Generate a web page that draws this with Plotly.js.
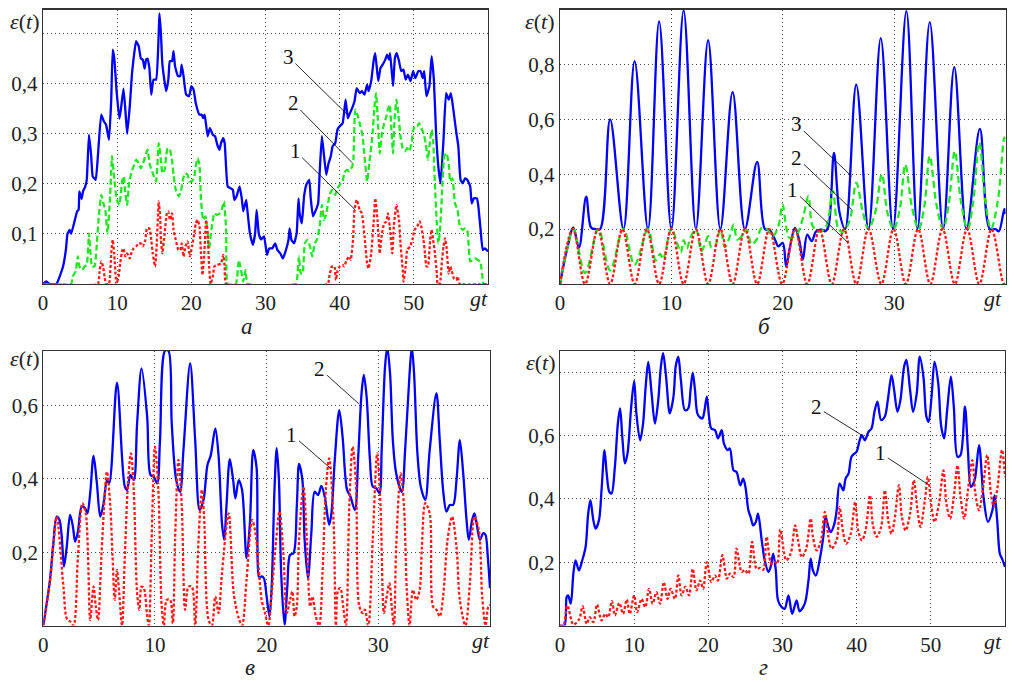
<!DOCTYPE html>
<html><head><meta charset="utf-8">
<script src="https://cdn.plot.ly/plotly-3.0.1.min.js"></script>
<style>body{margin:0;background:#fff}</style>
</head><body><div id="chart" style="width:1014px;height:682px"></div>
<script>
// ---------- panel а (gt 0..60) ----------
const aCurve3 = [[0,0],[0.45,0.005],[0.9,0],[1.8,0],[2.7,0.035],[3.1,0.07],[3.3,0.1],[3.6,0.108],[3.8,0.1],[4.3,0.128],[4.6,0.145],[4.8,0.148],[4.9,0.185],[5.2,0.17],[5.4,0.185],[5.7,0.195],[5.9,0.208],[6.2,0.298],[6.5,0.255],[6.7,0.215],[7.1,0.208],[7.4,0.255],[7.85,0.338],[8.2,0.325],[8.5,0.318],[8.9,0.288],[9.2,0.368],[9.4,0.468],[9.6,0.452],[9.95,0.38],[10.3,0.33],[10.5,0.348],[10.85,0.39],[11.1,0.348],[11.35,0.3],[11.7,0.355],[12.0,0.42],[12.2,0.448],[12.55,0.485],[12.9,0.475],[13.2,0.45],[13.45,0.448],[13.7,0.43],[13.9,0.448],[14.1,0.45],[14.35,0.43],[14.6,0.378],[14.9,0.408],[15.25,0.408],[15.6,0.5],[15.7,0.54],[15.9,0.5],[16.1,0.438],[16.6,0.385],[16.9,0.408],[17.1,0.445],[17.4,0.445],[17.6,0.465],[17.8,0.435],[18.2,0.415],[18.5,0.415],[18.7,0.438],[18.95,0.415],[19.3,0.378],[19.7,0.375],[20.0,0.395],[20.3,0.388],[20.6,0.361],[21.1,0.338],[21.4,0.338],[21.6,0.331],[21.8,0.338],[22.2,0.295],[22.5,0.311],[22.9,0.298],[23.2,0.295],[23.5,0.278],[23.8,0.268],[24.0,0.281],[24.3,0.291],[24.5,0.281],[24.9,0.195],[25.3,0.191],[25.6,0.188],[25.8,0.168],[26.1,0.175],[26.5,0.195],[26.8,0.171],[27.0,0.145],[27.4,0.168],[27.6,0.141],[27.9,0.101],[28.3,0.078],[28.6,0.101],[28.8,0.148],[29.1,0.1],[29.4,0.089],[29.8,0.095],[30.2,0.058],[30.5,0.071],[30.9,0.071],[31.3,0.081],[31.6,0.068],[32.0,0.061],[32.35,0.051],[32.7,0.065],[33.1,0.088],[33.25,0.111],[33.5,0.088],[33.85,0.081],[34.2,0.101],[34.45,0.171],[34.6,0.141],[34.9,0.121],[35.2,0.175],[35.5,0.198],[35.9,0.208],[36.1,0.171],[36.4,0.135],[36.8,0.148],[37.1,0.161],[37.3,0.221],[37.6,0.295],[37.9,0.255],[38.2,0.218],[38.5,0.241],[38.8,0.255],[39.05,0.275],[39.4,0.281],[39.7,0.308],[40.0,0.315],[40.4,0.321],[40.8,0.368],[41.1,0.331],[41.3,0.338],[41.6,0.348],[42.0,0.365],[42.3,0.391],[42.7,0.381],[43.0,0.385],[43.35,0.378],[43.7,0.398],[43.9,0.385],[44.25,0.405],[44.6,0.448],[44.8,0.461],[45.2,0.405],[45.5,0.431],[45.8,0.438],[46.15,0.448],[46.4,0.458],[46.65,0.448],[46.8,0.461],[47.2,0.395],[47.45,0.451],[47.7,0.461],[48.0,0.445],[48.3,0.425],[48.6,0.428],[48.9,0.408],[49.2,0.418],[49.55,0.405],[49.9,0.425],[50.2,0.411],[50.6,0.425],[50.9,0.425],[51.2,0.411],[51.4,0.425],[51.7,0.375],[52.1,0.395],[52.4,0.455],[52.7,0.408],[53.0,0.301],[53.3,0.235],[53.6,0.201],[54.0,0.288],[54.35,0.381],[54.7,0.368],[55.0,0.381],[55.3,0.351],[55.7,0.305],[56.0,0.275],[56.3,0.208],[56.6,0.201],[56.9,0.211],[57.2,0.208],[57.6,0.195],[57.8,0.161],[58.1,0.171],[58.5,0.171],[58.7,0.155],[58.96,0.115],[59.3,0.068],[59.6,0.071],[60.0,0.065]];
const aCurve2 = [[0,0],[3.8,0],[4.0,0.015],[4.4,0.025],[4.7,0.055],[4.9,0.035],[5.3,0.028],[5.6,0.035],[5.9,0.038],[6.2,0.101],[6.4,0.061],[6.6,0.035],[6.95,0.035],[7.2,0.068],[7.5,0.131],[7.85,0.178],[8.2,0.158],[8.4,0.148],[8.7,0.101],[9.05,0.175],[9.3,0.255],[9.6,0.211],[9.95,0.168],[10.3,0.158],[10.7,0.208],[10.9,0.215],[11.1,0.181],[11.35,0.158],[11.6,0.201],[11.9,0.221],[12.2,0.235],[12.55,0.248],[12.9,0.241],[13.2,0.231],[13.5,0.241],[13.9,0.261],[14.1,0.268],[14.4,0.238],[14.8,0.221],[15.25,0.205],[15.6,0.281],[15.9,0.248],[16.1,0.221],[16.4,0.228],[16.6,0.255],[16.8,0.271],[17.1,0.268],[17.4,0.248],[17.6,0.218],[17.9,0.188],[18.3,0.175],[18.6,0.185],[18.9,0.211],[19.2,0.221],[19.5,0.218],[19.7,0.205],[20.1,0.205],[20.4,0.215],[20.6,0.235],[20.85,0.251],[21.1,0.238],[21.3,0.168],[21.6,0.128],[21.9,0.135],[22.2,0.101],[22.4,0.071],[22.7,0.108],[23.1,0.141],[23.4,0.138],[23.8,0.141],[24.1,0.148],[24.4,0.165],[24.7,0.108],[24.9,0],[26.0,0],[26.4,0.048],[26.7,0.028],[27.0,0.005],[27.3,0.028],[27.6,0],[34.1,0],[34.3,0.015],[34.5,0.055],[34.75,0.021],[35.0,0.021],[35.3,0.081],[35.65,0.088],[36.0,0.075],[36.3,0.055],[36.65,0.081],[37.0,0.091],[37.3,0.115],[37.6,0.158],[37.9,0.128],[38.2,0.141],[38.6,0.175],[38.95,0.188],[39.4,0.178],[39.7,0.191],[40.0,0.198],[40.4,0.205],[40.6,0.221],[40.95,0.228],[41.3,0.225],[41.7,0.235],[41.85,0.248],[42.1,0.348],[42.4,0.338],[42.8,0.315],[43.1,0.295],[43.35,0.255],[43.7,0.205],[44.0,0.241],[44.4,0.295],[44.7,0.355],[44.9,0.381],[45.15,0.328],[45.4,0.261],[45.7,0.301],[46.0,0.321],[46.3,0.335],[46.5,0.348],[46.75,0.358],[47.0,0.301],[47.2,0.261],[47.4,0.328],[47.65,0.368],[47.9,0.341],[48.2,0.295],[48.5,0.271],[48.8,0.265],[49.1,0.271],[49.4,0.265],[49.7,0.281],[49.9,0.305],[50.1,0.315],[50.45,0.315],[50.7,0.321],[51.0,0.311],[51.3,0.301],[51.6,0.281],[51.9,0.248],[52.1,0.275],[52.4,0.308],[52.6,0.288],[52.85,0.195],[53.1,0.121],[53.3,0.081],[53.5,0.101],[53.8,0.181],[54.1,0.255],[54.4,0.261],[54.7,0.241],[54.9,0.205],[55.2,0.211],[55.55,0.161],[55.9,0.148],[56.2,0.115],[56.6,0.108],[56.9,0.111],[57.2,0.108],[57.6,0.045],[57.96,0.048],[58.3,0.051],[58.6,0.048],[58.96,0.045],[59.3,0.008],[59.4,0],[60,0]];
const aCurve1 = [[0,0],[7.4,0],[7.6,0.021],[7.85,0.045],[8.1,0.035],[8.3,0.015],[8.5,0],[8.9,0],[9.2,0.061],[9.4,0.088],[9.6,0.061],[9.9,0],[10.2,0.015],[10.4,0.041],[10.7,0.068],[10.85,0.071],[11.1,0.055],[11.35,0.061],[11.7,0.051],[11.9,0.061],[12.2,0.071],[12.55,0.075],[12.9,0.081],[13.2,0.081],[13.45,0.075],[13.8,0.088],[14.0,0.111],[14.35,0.111],[14.6,0.088],[14.8,0.061],[15.1,0.035],[15.25,0.055],[15.5,0.135],[15.6,0.165],[15.8,0.135],[15.9,0.088],[16.1,0.061],[16.4,0.101],[16.7,0.141],[16.9,0.145],[17.1,0.128],[17.4,0.141],[17.6,0.108],[17.9,0.088],[18.25,0.068],[18.5,0.068],[18.7,0.081],[18.95,0.055],[19.2,0.075],[19.5,0.085],[19.8,0.055],[20.1,0.075],[20.4,0.101],[20.6,0.121],[20.85,0.128],[21.1,0.115],[21.3,0.061],[21.5,0.018],[21.75,0.061],[22.0,0.128],[22.2,0.101],[22.4,0.035],[22.6,0],[22.9,0.015],[23.1,0.035],[23.5,0.038],[24.0,0.041],[24.3,0.058],[24.5,0.035],[24.7,0],[38.4,0],[38.6,0.015],[38.95,0.035],[39.3,0.035],[39.5,0.008],[39.7,0.025],[40.0,0.035],[40.4,0.038],[40.6,0.035],[40.95,0.048],[41.3,0.055],[41.5,0.048],[41.8,0.088],[42.0,0.148],[42.3,0.168],[42.7,0.148],[43.0,0.141],[43.35,0.095],[43.7,0.041],[43.9,0.031],[44.25,0.061],[44.6,0.128],[44.8,0.171],[45.1,0.128],[45.4,0.061],[45.7,0.101],[46.0,0.121],[46.3,0.125],[46.5,0.141],[46.75,0.115],[47.1,0.061],[47.3,0.115],[47.65,0.158],[48.0,0.128],[48.2,0.081],[48.5,0.028],[48.6,0.005],[48.9,0.035],[49.1,0.068],[49.5,0.075],[49.8,0.088],[50.1,0.108],[50.45,0.115],[50.8,0.125],[51.0,0.115],[51.3,0.088],[51.5,0.061],[51.7,0.035],[51.9,0.035],[52.2,0.088],[52.4,0.108],[52.6,0.088],[52.85,0.061],[53.1,0.021],[53.2,0],[53.5,0],[53.8,0.048],[54.0,0.075],[54.2,0.091],[54.4,0.075],[54.7,0.021],[54.9,0.035],[55.1,0.027],[55.4,0.011],[55.7,0.008],[55.9,0.015],[56.2,0],[60,0]];

// ---------- panel б (gt 0..40) ----------
const bCurve3 = [[0,0],[0.6,0.12],[1.2,0.205],[1.7,0.132],[2.35,0.318],[2.8,0.205],[3.2,0.2],[3.6,0.2],[4.5,0.6],[5.7,0.2],[6.7,0.812],[7.9,0.2],[8.9,0.957],[10.0,0.2],[11.1,0.997],[12.2,0.2],[13.3,0.888],[14.4,0.2],[15.5,0.699],[16.6,0.2],[17.7,0.445],[18.4,0.2],[18.8,0.198],[19.3,0.162],[19.6,0.137],[20.0,0.15],[20.3,0.064],[20.6,0.125],[21.1,0.204],[21.5,0.156],[21.8,0.089],[22.2,0.18],[22.6,0.156],[23.0,0.192],[23.5,0.198],[23.8,0.192],[24.1,0.21],[24.6,0.478],[25.1,0.26],[25.6,0.2],[26.6,0.726],[27.7,0.2],[28.8,0.896],[29.9,0.2],[31.1,0.994],[32.1,0.2],[33.2,0.954],[34.4,0.2],[35.4,0.79],[36.5,0.2],[37.7,0.565],[38.6,0.2],[39.1,0.2],[39.4,0.192],[39.9,0.274],[40,0.255]];
const bCurve2 = [[0,0],[0.6,0.12],[1.2,0.2],[2.25,0.04],[3.45,0.2],[4.5,0.05],[5.7,0.2],[6.7,0.07],[7.9,0.2],[8.6,0.085],[9.0,0.11],[9.25,0.09],[10.0,0.2],[10.6,0.138],[10.85,0.115],[11.1,0.16],[11.4,0.13],[11.7,0.168],[12.2,0.2],[12.7,0.12],[13.0,0.144],[13.3,0.174],[13.6,0.132],[13.9,0.135],[14.4,0.2],[14.8,0.135],[15.2,0.168],[15.6,0.217],[15.9,0.162],[16.2,0.168],[16.75,0.198],[17.2,0.144],[17.65,0.162],[18.1,0.204],[18.6,0.2],[19.1,0.174],[19.6,0.21],[19.98,0.29],[20.3,0.21],[20.6,0.168],[21.25,0.18],[21.85,0.247],[22.3,0.32],[22.7,0.21],[23.3,0.19],[23.9,0.21],[24.5,0.34],[25.0,0.2],[25.4,0.19],[26.0,0.23],[26.6,0.369],[27.2,0.26],[27.7,0.2],[28.3,0.26],[28.9,0.4],[29.4,0.26],[29.95,0.2],[30.5,0.27],[31.0,0.435],[31.6,0.28],[32.2,0.2],[32.7,0.28],[33.2,0.466],[33.8,0.29],[34.4,0.2],[34.9,0.29],[35.45,0.484],[36.0,0.3],[36.6,0.2],[37.1,0.3],[37.65,0.516],[38.2,0.3],[38.7,0.2],[39.3,0.3],[39.9,0.534],[40,0.52]];
const bCurve1 = [[0,0],[1.15,0.2],[2.25,0],[3.4,0.2],[4.5,0],[5.6,0.2],[6.7,0],[7.8,0.2],[8.9,0],[10.0,0.2],[11.1,0],[12.2,0.2],[13.3,0],[14.4,0.2],[15.5,0],[16.6,0.2],[17.7,0],[18.8,0.2],[19.95,0],[21.1,0.2],[22.2,0],[23.3,0.2],[24.4,0],[25.5,0.2],[26.6,0],[27.7,0.2],[28.85,0],[29.95,0.2],[31.05,0],[32.15,0.2],[33.25,0],[34.35,0.2],[35.45,0],[36.55,0.2],[37.65,0],[38.75,0.2],[39.85,0],[40,0.003]];

// ---------- panel в (gt 0..40) ----------
const cCurve2 = [[0,0],[0.6,0.125],[0.9,0.225],[1.2,0.297],[1.45,0.288],[1.65,0.243],[1.85,0.161],[2.1,0.215],[2.4,0.302],[2.65,0.27],[2.85,0.229],[3.1,0.256],[3.45,0.325],[3.75,0.32],[3.95,0.306],[4.2,0.361],[4.5,0.463],[4.8,0.388],[5.1,0.297],[5.4,0.334],[5.7,0.397],[5.9,0.388],[6.6,0.663],[7.3,0.379],[7.5,0.37],[7.8,0.411],[8.1,0.397],[8.4,0.552],[8.8,0.702],[9.3,0.57],[9.6,0.411],[9.9,0.405],[10.2,0.388],[10.45,0.506],[10.9,0.75],[11.2,0.75],[11.5,0.552],[11.9,0.397],[12.25,0.365],[12.55,0.479],[13.15,0.715],[13.6,0.506],[14.0,0.315],[14.35,0.343],[14.7,0.438],[15.0,0.465],[15.4,0.538],[15.7,0.461],[16.0,0.279],[16.2,0.234],[16.4,0.325],[16.7,0.454],[17.0,0.397],[17.2,0.347],[17.5,0.397],[17.8,0.37],[18.2,0.184],[18.5,0.279],[18.8,0.479],[19.1,0.43],[19.35,0.129],[19.55,0.134],[19.75,0.129],[20.0,0.079],[20.25,0.025],[20.45,0.106],[20.7,0.37],[20.9,0.484],[21.1,0.397],[21.3,0.143],[21.6,0.002],[21.85,0.106],[22.1,0.193],[22.4,0.197],[22.7,0.325],[22.9,0.441],[23.2,0.397],[23.4,0.234],[23.7,0.129],[24.0,0.252],[24.3,0.365],[24.6,0.356],[24.9,0.381],[25.2,0.352],[25.6,0.275],[25.8,0.306],[26.1,0.452],[26.5,0.588],[26.8,0.515],[27.2,0.37],[27.5,0.352],[27.9,0.315],[28.2,0.461],[28.5,0.634],[28.7,0.684],[28.95,0.625],[29.25,0.452],[29.5,0.379],[29.8,0.375],[30.1,0.361],[30.3,0.479],[30.6,0.706],[30.8,0.76],[31.05,0.688],[31.3,0.506],[31.6,0.415],[32.1,0.365],[32.4,0.479],[32.8,0.688],[33.0,0.76],[33.2,0.688],[33.5,0.47],[33.8,0.379],[34.2,0.343],[34.6,0.479],[35.2,0.634],[35.5,0.506],[35.8,0.37],[36.1,0.311],[36.4,0.329],[36.7,0.329],[37.0,0.397],[37.3,0.506],[37.6,0.415],[37.9,0.288],[38.1,0.234],[38.4,0.288],[38.6,0.306],[38.8,0.279],[39.1,0.234],[39.4,0.252],[39.6,0.247],[39.8,0.188],[40.0,0.102]];
const cCurve1 = [[0,0],[0.6,0.12],[0.9,0.22],[1.2,0.297],[1.8,0.106],[2.1,0.02],[2.4,0.011],[2.7,0],[3.1,0.188],[3.5,0.334],[3.8,0.306],[4.0,0.197],[4.2,0.015],[4.5,0.106],[4.7,0.052],[4.9,0.015],[5.2,0.188],[5.5,0.352],[5.7,0.42],[6.0,0.325],[6.2,0.188],[6.4,0.07],[6.6,0.152],[6.8,0.088],[7.05,0],[7.3,0.188],[7.6,0.397],[7.85,0.47],[8.1,0.37],[8.4,0.088],[8.6,0.043],[8.8,0.106],[9.0,0.102],[9.3,0.025],[9.45,0],[9.7,0.234],[10.0,0.488],[10.3,0.37],[10.6,0.052],[10.8,0],[11.05,0.07],[11.35,0.07],[11.6,0.006],[11.8,0.234],[12.1,0.452],[12.4,0.325],[12.7,0.043],[13.0,0.106],[13.3,0.106],[13.6,0],[13.9,0.234],[14.2,0.37],[14.4,0.297],[14.8,0.015],[15.1,0],[15.4,0.079],[15.7,0.034],[16.0,0.143],[16.6,0.306],[17.05,0.088],[17.5,0.02],[17.8,0],[18.2,0.125],[18.7,0.288],[19.0,0.252],[19.3,0.152],[19.55,0.07],[19.85,0.034],[20.15,0],[20.45,0.088],[20.85,0.234],[21.15,0.311],[21.5,0.197],[21.8,0.034],[22.1,0.07],[22.3,0.093],[22.5,0.025],[22.7,0.052],[22.9,0.234],[23.3,0.379],[23.6,0.234],[23.9,0.052],[24.1,0.079],[24.4,0.025],[24.7,0],[25.0,0.143],[25.3,0.37],[25.6,0.456],[26.0,0.279],[26.2,0],[26.4,0.097],[26.6,0.102],[26.85,0.052],[27.1,0],[27.4,0.325],[27.7,0.488],[28.0,0.388],[28.3,0.052],[28.6,0.034],[28.8,0.043],[29.1,0],[29.5,0.234],[29.9,0.47],[30.2,0.325],[30.5,0.034],[30.7,0.07],[31.0,0.115],[31.2,0.052],[31.4,0],[31.6,0.215],[32.0,0.415],[32.3,0.325],[32.55,0.097],[32.8,0],[33.1,0.097],[33.4,0.07],[33.7,0.097],[33.9,0.215],[34.2,0.334],[34.6,0.306],[34.9,0.052],[35.2,0.043],[35.5,0.025],[35.8,0.079],[36.2,0.234],[36.6,0.297],[37.0,0.215],[37.3,0.07],[37.8,0],[38.2,0.115],[38.6,0.297],[39.0,0.261],[39.3,0.079],[39.6,0],[39.85,0.052],[40.0,0.056]];

// ---------- panel г (gt 0..60) ----------
const dCurve2 = [[0,0],[0.6,0],[0.9,0.09],[1.1,0.095],[1.45,0.069],[1.8,0.164],[2.1,0.206],[2.55,0.174],[3.0,0.206],[3.45,0.248],[3.8,0.353],[4.1,0.396],[4.5,0.332],[4.8,0.306],[5.25,0.332],[5.6,0.427],[6.0,0.554],[6.3,0.48],[6.65,0.422],[6.95,0.417],[7.4,0.501],[7.8,0.638],[8.1,0.686],[8.4,0.596],[8.75,0.512],[9.1,0.543],[9.6,0.691],[10.0,0.773],[10.3,0.67],[10.8,0.585],[11.2,0.638],[11.55,0.754],[11.9,0.833],[12.35,0.733],[12.8,0.638],[13.25,0.712],[13.6,0.818],[13.9,0.86],[14.3,0.786],[14.8,0.67],[15.3,0.723],[15.6,0.818],[15.95,0.849],[16.3,0.775],[16.85,0.68],[17.3,0.686],[17.6,0.744],[17.9,0.799],[18.2,0.744],[18.6,0.665],[19.2,0.654],[19.45,0.675],[19.8,0.723],[20.1,0.659],[20.4,0.622],[20.9,0.617],[21.3,0.591],[21.8,0.617],[22.1,0.575],[22.6,0.554],[22.9,0.559],[23.4,0.49],[23.8,0.485],[24.3,0.443],[24.7,0.464],[25.0,0.438],[25.4,0.364],[25.7,0.343],[26.05,0.316],[26.4,0.327],[26.7,0.353],[27.2,0.269],[27.6,0.206],[28.1,0.169],[28.4,0.185],[28.75,0.227],[29.1,0.174],[29.4,0.079],[29.9,0.058],[30.3,0.053],[30.8,0.095],[31.3,0.037],[31.9,0.079],[32.3,0.045],[33.0,0.069],[33.5,0.142],[33.8,0.211],[34.1,0.174],[34.5,0.158],[35.0,0.206],[35.5,0.28],[35.8,0.343],[36.2,0.311],[36.5,0.295],[37.0,0.322],[37.3,0.364],[37.7,0.448],[38.2,0.427],[38.5,0.464],[38.9,0.48],[39.3,0.533],[39.7,0.543],[40.0,0.549],[40.4,0.585],[40.7,0.601],[41.1,0.585],[41.6,0.612],[42.0,0.622],[42.4,0.675],[42.8,0.707],[43.3,0.649],[43.8,0.66],[44.2,0.712],[44.7,0.791],[45.05,0.744],[45.5,0.675],[45.9,0.712],[46.4,0.818],[46.7,0.839],[47.2,0.744],[47.6,0.675],[48.1,0.733],[48.5,0.849],[49.0,0.786],[49.4,0.66],[49.7,0.643],[50.1,0.723],[50.5,0.833],[51.0,0.765],[51.4,0.628],[51.8,0.591],[52.2,0.68],[52.7,0.786],[53.1,0.691],[53.6,0.533],[54.0,0.538],[54.6,0.691],[55.0,0.554],[55.4,0.438],[55.9,0.459],[56.5,0.57],[57.1,0.406],[57.7,0.327],[58.3,0.364],[58.6,0.411],[58.95,0.332],[59.3,0.227],[59.6,0.211],[60.0,0.185]];
const dCurve1 = [[0,0],[0.45,0],[1.0,0.063],[1.8,0.003],[2.6,0.021],[3.05,0.06],[3.6,0.005],[4.0,0.026],[4.5,0.011],[5.0,0.066],[5.6,0.016],[6.1,0.037],[6.5,0.026],[7.0,0.077],[7.4,0.032],[8.0,0.071],[8.5,0.037],[9.0,0.082],[9.4,0.037],[10.0,0.095],[10.4,0.042],[11.0,0.084],[11.5,0.058],[12.0,0.116],[12.5,0.069],[13.0,0.105],[13.5,0.069],[14.0,0.137],[14.5,0.084],[14.9,0.116],[15.5,0.084],[15.95,0.158],[16.4,0.095],[16.9,0.123],[17.4,0.095],[17.9,0.179],[18.4,0.111],[18.9,0.142],[19.3,0.116],[19.8,0.2],[20.4,0.137],[20.9,0.158],[21.3,0.142],[21.9,0.222],[22.5,0.148],[22.9,0.164],[23.4,0.153],[23.8,0.243],[24.5,0.169],[24.9,0.176],[25.4,0.164],[25.9,0.264],[26.5,0.179],[26.95,0.182],[27.4,0.176],[27.85,0.28],[28.5,0.195],[29.0,0.2],[29.3,0.195],[29.7,0.303],[30.5,0.206],[31.1,0.227],[31.7,0.316],[32.1,0.269],[32.6,0.216],[33.2,0.243],[33.8,0.338],[34.1,0.28],[34.6,0.237],[35.2,0.269],[35.7,0.359],[36.2,0.28],[36.6,0.243],[37.3,0.269],[37.7,0.374],[38.2,0.29],[38.6,0.258],[39.2,0.29],[39.8,0.39],[40.2,0.3],[40.7,0.269],[41.2,0.3],[41.8,0.411],[42.2,0.316],[42.7,0.28],[43.3,0.311],[43.8,0.427],[44.25,0.332],[44.7,0.29],[45.1,0.332],[45.7,0.443],[46.1,0.343],[46.6,0.3],[47.2,0.353],[47.7,0.459],[48.2,0.364],[48.6,0.311],[49.2,0.396],[49.6,0.469],[50.1,0.374],[50.5,0.327],[51.1,0.385],[51.7,0.49],[52.1,0.385],[52.6,0.338],[53.1,0.406],[53.6,0.506],[54.0,0.406],[54.5,0.338],[55.0,0.427],[55.6,0.522],[56.0,0.417],[56.5,0.364],[57.0,0.427],[57.6,0.538],[58.1,0.417],[58.5,0.374],[59.0,0.438],[59.6,0.554],[60.0,0.469]];

// ticks
const xTicks60 = [0,10,20,30,40,50];
const xLabels60 = ['0','10','20','30','40','50'];
const xTicks40 = [0,10,20,30];
const xLabels40 = ['0','10','20','30'];
const yTicksA = [0.1,0.2,0.3,0.4,0.5];
const yLabelsA = ['0,1','0,2','0,3','0,4',''];
const yTicksB = [0.2,0.4,0.6,0.8];
const yLabelsB = ['0,2','0,4','0,6','0,8'];
const yTicksC = [0.2,0.4,0.6];
const yLabelsC = ['0,2','0,4','0,6'];
const yTicksD = [0.2,0.4,0.6,0.8];
const yLabelsD = ['0,2','0,4','0,6',''];
const panelLetters = ['а','б','в','г'];
const xTitle = 'gt', yTitle = 'ε(t)';

const BLUE='#0000ff', GREEN='#22e622', RED='#ff1a1a';
function tr(pairs, xa, ya, color, dash, smooth){
  return {x: pairs.map(p=>p[0]), y: pairs.map(p=>p[1]), xaxis: xa, yaxis: ya, type:'scatter', mode:'lines',
    hoverinfo:'skip', showlegend:false,
    line:{color:color, width:2.3, dash:dash, shape: smooth>0?'spline':'linear', smoothing: smooth>0?smooth:undefined}};
}
const traces = [
  tr(aCurve3,'x','y',BLUE,'solid',0.4),
  tr(aCurve2,'x','y',GREEN,'6px,3px',0.4),
  tr(aCurve1,'x','y',RED,'3px,2px',0.4),
  tr(bCurve3,'x2','y2',BLUE,'solid',1),
  tr(bCurve2,'x2','y2',GREEN,'7px,4px',1),
  tr(bCurve1,'x2','y2',RED,'3px,2px',1),
  tr(cCurve2,'x3','y3',BLUE,'solid',0.9),
  tr(cCurve1,'x3','y3',RED,'3px,2px',0.9),
  tr(dCurve2,'x4','y4',BLUE,'solid',0.9),
  tr(dCurve1,'x4','y4',RED,'3px,2px',0.9)
];

const FONT = 'Liberation Serif';
function ax(dom, anchor, rng, tv, tt){
  return {domain:dom, anchor:anchor, range:rng, tickvals:tv, ticktext:tt, showgrid:true, gridcolor:'#444', gridwidth:1,
    griddash:'1px,3px', zeroline:false, showline:true, mirror:true, linecolor:'#333', linewidth:1.2, ticks:'',
    ticklabeloverflow:'allow', tickfont:{family:FONT, size:21, color:'#222'}, fixedrange:true};
}
const W=1014, H=682;
const topY=[1-284/H, 1-9.5/H], botY=[1-625.5/H, 1-350.7/H];
const layout = {
  width:W, height:H, margin:{l:0,r:0,t:0,b:0}, paper_bgcolor:'#fff', plot_bgcolor:'#fff', showlegend:false,
  font:{family:FONT},
  xaxis: ax([43/W, 488/W],'y',[0,60],xTicks60,xLabels60),
  yaxis: ax(topY,'x',[0,0.548],yTicksA,yLabelsA),
  xaxis2: ax([560/W, 1005.5/W],'y2',[0,40],xTicks40,xLabels40),
  yaxis2: ax(topY,'x2',[0,1.0],yTicksB,yLabelsB),
  xaxis3: ax([43.3/W, 490/W],'y3',[0,40],xTicks40,xLabels40),
  yaxis3: ax(botY,'x3',[0,0.75],yTicksC,yLabelsC),
  xaxis4: ax([560/W, 1005/W],'y4',[0,60],xTicks60,xLabels60),
  yaxis4: ax(botY,'x4',[0,0.868],yTicksD,yLabelsD),
  annotations: []
};
function lab(txt, xr, yr, x, y, ax, ay){
  return {text:txt, xref:xr, yref:yr, x:x, y:y, ax:ax, ay:ay, showarrow:true, arrowhead:0, arrowwidth:0.9,
    arrowcolor:'#111', standoff:0, font:{family:FONT, size:21, color:'#111'}};
}
layout.annotations.push(
  lab('3','x','y',41.05,0.338,-59,-58), lab('2','x','y',41.7,0.242,-59,-60), lab('1','x','y',42.1,0.148,-60,-59),
  lab('3','x2','y2',26.2,0.392,-55,-52), lab('2','x2','y2',26.2,0.271,-55,-52), lab('1','x2','y2',25.85,0.151,-55,-53),
  lab('2','x3','y3',28.26,0.605,-39,-35), lab('1','x3','y3',25.76,0.428,-39,-34),
  lab('2','x4','y4',40.7,0.601,-45,-28), lab('1','x4','y4',49.6,0.446,-47,-31)
);
function paperText(txt, px, py, size){
  return {text:txt, xref:'paper', yref:'paper', x:px/W, y:1-py/H, showarrow:false, xanchor:'center', yanchor:'middle',
    font:{family:FONT, size:size, color:'#222'}};
}
const epsPos = [[24.5,22],[539.5,22],[24.5,358],[540.5,362]];
epsPos.forEach(p=>layout.annotations.push(paperText('<i>ε</i>(<i>t</i>)', p[0], p[1], 22)));
const gtPos = [[479,298],[993,298],[481,640],[993,641]];
gtPos.forEach(p=>layout.annotations.push(paperText('<i>'+xTitle+'</i>', p[0], p[1], 22)));
const capPos = [[247,326],[764,326],[250,667],[763,667]];
capPos.forEach((p,i)=>layout.annotations.push(paperText('<i>'+panelLetters[i]+'</i>', p[0], p[1], 23)));

Plotly.newPlot('chart', traces, layout, {staticPlot:true, displayModeBar:false});
</script></body></html>
